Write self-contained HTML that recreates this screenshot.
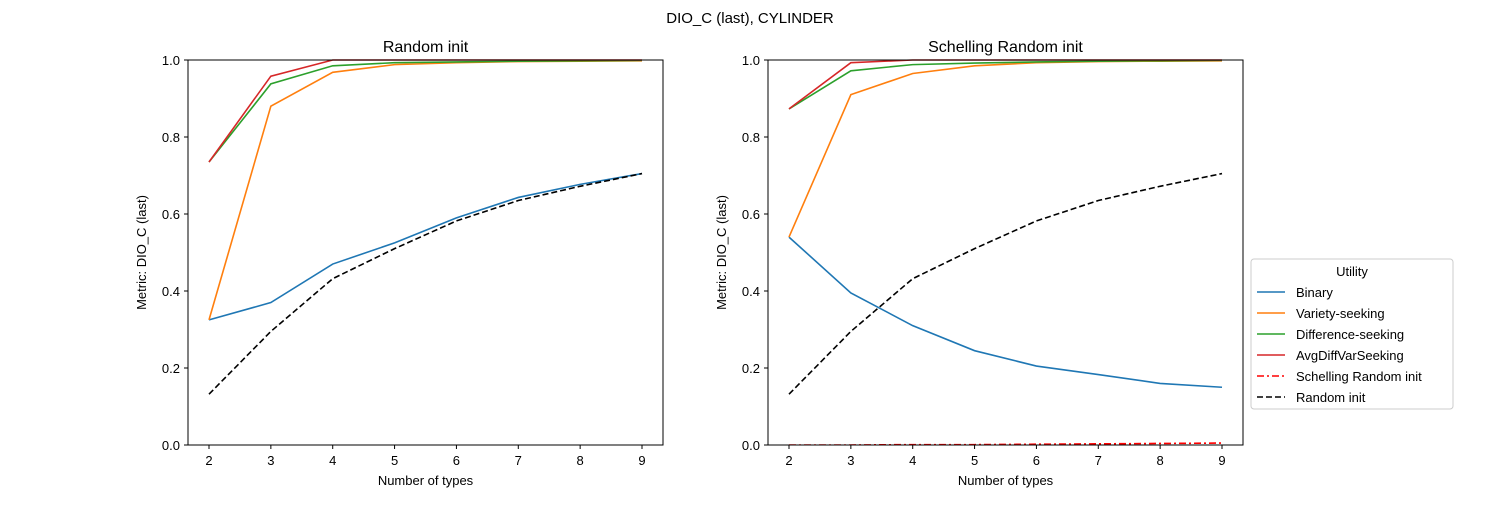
<!DOCTYPE html>
<html><head><meta charset="utf-8"><style>
body{margin:0;background:#fff;}
svg{font-family:"Liberation Sans","DejaVu Sans",sans-serif;}
</style></head><body>
<svg id="chart" width="1500" height="500" viewBox="0 0 1500 500"></svg>
<script>
const xCats=[2,3,4,5,6,7,8,9];
const yTicks=[0,0.2,0.4,0.6,0.8,1.0];
const yTickLabels=["0.0","0.2","0.4","0.6","0.8","1.0"];
const leftBinary=[0.325,0.37,0.47,0.525,0.59,0.643,0.677,0.705];
const leftVariety=[0.325,0.88,0.968,0.988,0.993,0.996,0.997,0.998];
const leftDifference=[0.735,0.938,0.985,0.993,0.995,0.997,0.998,0.999];
const leftAvgDiff=[0.735,0.958,1.0,1.0,1.0,1.0,1.0,1.0];
const rightBinary=[0.54,0.395,0.31,0.245,0.205,0.183,0.16,0.15];
const rightVariety=[0.54,0.91,0.965,0.985,0.993,0.996,0.997,0.998];
const rightDifference=[0.873,0.972,0.988,0.992,0.995,0.997,0.998,0.999];
const rightAvgDiff=[0.873,0.993,1.0,1.0,1.0,1.0,1.0,1.0];
const schellingRef=[0.0,0.0,0.001,0.001,0.002,0.003,0.004,0.005];
const randomRef=[0.132,0.295,0.432,0.51,0.582,0.635,0.672,0.705];

const NS="http://www.w3.org/2000/svg";
const svg=document.getElementById('chart');
function mk(tag,attrs,parent,text){const e=document.createElementNS(NS,tag);for(const k in attrs)e.setAttribute(k,attrs[k]);if(text!==undefined)e.textContent=text;(parent||svg).appendChild(e);return e;}

const t=mk('text',{x:750,y:23,'text-anchor':'middle','font-size':15});t.textContent="DIO_C (last), CYLINDER";



function panel(x0,x1,title,series,name){
  const y0=60,y1=445;
  const g=mk('g',{});
  
  
  const xs=v=>(x0+21)+(v-2)*((x1-x0-42)/7);
  const ys=v=>y1-v*(y1-y0);
  const tt=mk('text',{x:(x0+x1)/2,y:52,'text-anchor':'middle','font-size':16},g,title);
  
  
  xCats.forEach(c=>{
    mk('line',{x1:xs(c),x2:xs(c),y1:y1,y2:y1+4,stroke:'#000'},g);
    const l=mk('text',{x:xs(c),y:y1+20,'text-anchor':'middle','font-size':13},g,String(c));
    
    
  });
  yTicks.forEach((v,i)=>{
    mk('line',{x1:x0-4,x2:x0,y1:ys(v),y2:ys(v),stroke:'#000'},g);
    const l=mk('text',{x:x0-8,y:ys(v)+5,'text-anchor':'end','font-size':13},g,yTickLabels[i]);
    
    
  });
  const xl=mk('text',{x:(x0+x1)/2,y:485,'text-anchor':'middle','font-size':13},g,"Number of types");
  
  
  const yl=mk('text',{x:0,y:0,'text-anchor':'middle','font-size':13,transform:`translate(${x0-42},${(y0+y1)/2}) rotate(-90)`},g,"Metric: DIO_C (last)");
  
  
  const cp='clip'+name;
  const cl=mk('clipPath',{id:cp},g);mk('rect',{x:x0,y:y0-1,width:x1-x0,height:y1-y0+1},cl);
  series.forEach(s=>{
    const p=mk('polyline',{points:s.d.map((v,i)=>xs(xCats[i])+','+ys(v)).join(' '),fill:'none',stroke:s.c,'stroke-width':1.6,'stroke-dasharray':s.dash||'none','clip-path':`url(#${cp})`},g);
    
    
  });
  mk('rect',{x:x0,y:y0,width:x1-x0,height:y1-y0,fill:'none',stroke:'#000','stroke-width':1},g);
}
panel(188,663,"Random init",[
 {d:leftBinary,c:'#1f77b4',n:'line-binary'},
 {d:leftVariety,c:'#ff7f0e',n:'line-variety-seeking'},
 {d:leftDifference,c:'#2ca02c',n:'line-difference-seeking'},
 {d:leftAvgDiff,c:'#d62728',n:'line-avgdiffvarseeking'},
 {d:randomRef,c:'#000',dash:'6,3',n:'line-random-init-ref'}
],'panel-random-init');
panel(768,1243,"Schelling Random init",[
 {d:rightBinary,c:'#1f77b4',n:'line-binary'},
 {d:rightVariety,c:'#ff7f0e',n:'line-variety-seeking'},
 {d:rightDifference,c:'#2ca02c',n:'line-difference-seeking'},
 {d:rightAvgDiff,c:'#d62728',n:'line-avgdiffvarseeking'},
 {d:schellingRef,c:'#ff0000',dash:'7,3,2,3',n:'line-schelling-random-init-ref'},
 {d:randomRef,c:'#000',dash:'6,3',n:'line-random-init-ref'}
],'panel-schelling-random-init');

const lg=mk('g',{});


mk('rect',{x:1251,y:259,width:202,height:150,rx:3,fill:'#fff',stroke:'#ccc'},lg);
mk('text',{x:1352,y:276,'text-anchor':'middle','font-size':13},lg,"Utility");
const legendItems=[["Binary",'#1f77b4','none'],["Variety-seeking",'#ff7f0e','none'],["Difference-seeking",'#2ca02c','none'],["AvgDiffVarSeeking",'#d62728','none'],["Schelling Random init",'#ff0000','7,3,2,3'],["Random init",'#000','6,3']];
legendItems.forEach((it,i)=>{
  const y=292+i*21;
  const e=mk('g',{},lg);
  
  
  mk('line',{x1:1257,x2:1285,y1:y,y2:y,stroke:it[1],'stroke-width':1.6,'stroke-dasharray':it[2]},e);
  mk('text',{x:1296,y:y+5,'font-size':13},e,it[0]);
});
</script>
</body></html>
